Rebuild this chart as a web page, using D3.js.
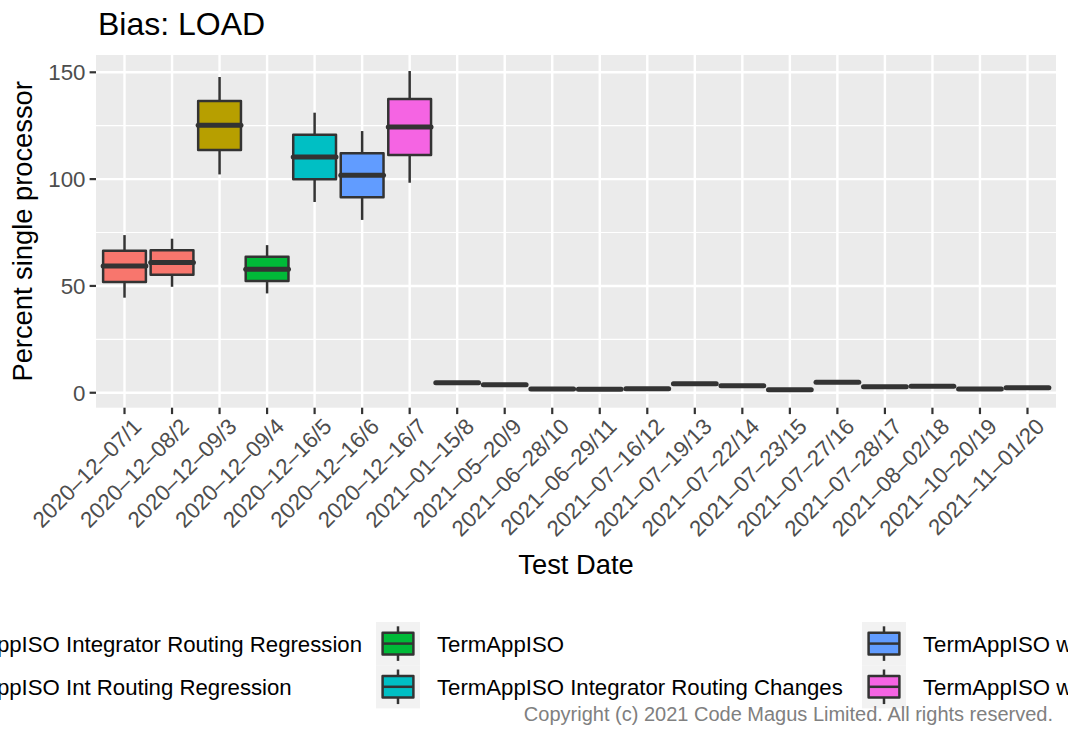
<!DOCTYPE html>
<html><head><meta charset="utf-8">
<script src="https://cdn.jsdelivr.net/npm/d3@7"></script>
<style>
html,body{margin:0;padding:0;background:#fff;}
svg{display:block;font-family:"Liberation Sans",Arial,Helvetica,sans-serif;}
</style></head>
<body><svg id="c" width="1068" height="729"></svg>
<script>
// ---- data ----
const categories = ["2020-12-07/1","2020-12-08/2","2020-12-09/3","2020-12-09/4","2020-12-16/5","2020-12-16/6","2020-12-16/7","2021-01-15/8","2021-05-20/9","2021-06-28/10","2021-06-29/11","2021-07-16/12","2021-07-19/13","2021-07-22/14","2021-07-23/15","2021-07-27/16","2021-07-28/17","2021-08-02/18","2021-10-20/19","2021-11-01/20"];
const groupOf  = [0,0,1,2,3,4,5,5,5,5,5,5,5,5,5,5,5,5,5,5];
const wMin     = [44.5,49.6,102.2,46.5,89.3,80.9,98.3,4.7,3.7,1.7,1.6,1.9,4.2,3.3,1.4,4.9,2.8,3.0,1.7,2.3];
const q1       = [51.8,55.2,113.6,52.3,99.9,91.5,111.3,4.7,3.7,1.7,1.6,1.9,4.2,3.3,1.4,4.9,2.8,3.0,1.7,2.3];
const median   = [59.3,61.0,125.2,57.8,110.3,101.8,124.4,4.7,3.7,1.7,1.6,1.9,4.2,3.3,1.4,4.9,2.8,3.0,1.7,2.3];
const q3       = [66.5,66.7,136.6,63.7,120.8,112.1,137.5,4.7,3.7,1.7,1.6,1.9,4.2,3.3,1.4,4.9,2.8,3.0,1.7,2.3];
const wMax     = [73.8,72.1,147.8,69.1,131.1,122.5,150.6,4.7,3.7,1.7,1.6,1.9,4.2,3.3,1.4,4.9,2.8,3.0,1.7,2.3];
const groupNames  = ["TermAppISO Integrator Routing Regression","TermAppISO Int Routing Regression","TermAppISO","TermAppISO Integrator Routing Changes","TermAppISO with Int Routing Changes","TermAppISO with Integrator Routing Changes"];
const groupColors = ["#F8766D","#B79F00","#00BA38","#00BFC4","#619CFF","#F564E3"];
const yTicks = [0,50,100,150];
const yMinor = [25,75,125];
const yDomain = [-7.0,158.1];

// ---- layout ----
const svg = d3.select("#c");
const P = {l:96, r:1056, t:55, b:407.7};
const FONT_TITLE = 32, FONT_AX = 27.3, FONT_TICK = 22.3, FONT_LEG = 22.2, FONT_CAP = 20;

const x = d3.scalePoint().domain(categories).range([P.l,P.r]).padding(0.6);
const y = d3.scaleLinear().domain(yDomain).range([P.b,P.t]);
const boxW = x.step()*0.9;
const xc = d => x(d);

// panel
svg.append("rect").attr("x",P.l).attr("y",P.t).attr("width",P.r-P.l).attr("height",P.b-P.t).attr("fill","#EBEBEB");
const g = svg.append("g");
g.selectAll(".minor").data(yMinor).join("line")
  .attr("x1",P.l).attr("x2",P.r).attr("y1",d=>y(d)).attr("y2",d=>y(d))
  .attr("stroke","#fff").attr("stroke-width",1.2);
g.selectAll(".majory").data(yTicks).join("line")
  .attr("x1",P.l).attr("x2",P.r).attr("y1",d=>y(d)).attr("y2",d=>y(d))
  .attr("stroke","#fff").attr("stroke-width",2.4);
g.selectAll(".majorx").data(categories).join("line")
  .attr("x1",d=>xc(d)).attr("x2",d=>xc(d)).attr("y1",P.t).attr("y2",P.b)
  .attr("stroke","#fff").attr("stroke-width",2.4);

// boxes
const boxes = svg.append("g").selectAll("g").data(categories).join("g");
boxes.append("line").attr("x1",d=>xc(d)).attr("x2",d=>xc(d))
  .attr("y1",(d,i)=>y(wMax[i])).attr("y2",(d,i)=>y(q3[i]))
  .attr("stroke","#333").attr("stroke-width",2.5);
boxes.append("line").attr("x1",d=>xc(d)).attr("x2",d=>xc(d))
  .attr("y1",(d,i)=>y(q1[i])).attr("y2",(d,i)=>y(wMin[i]))
  .attr("stroke","#333").attr("stroke-width",2.5);
boxes.append("rect").attr("x",d=>xc(d)-boxW/2).attr("width",boxW)
  .attr("y",(d,i)=>y(q3[i])).attr("height",(d,i)=>y(q1[i])-y(q3[i]))
  .attr("fill",(d,i)=>groupColors[groupOf[i]])
  .attr("stroke","#333").attr("stroke-width",2.5).attr("stroke-linejoin","round");
boxes.append("line").attr("x1",d=>xc(d)-boxW/2).attr("x2",d=>xc(d)+boxW/2)
  .attr("y1",(d,i)=>y(median[i])).attr("y2",(d,i)=>y(median[i]))
  .attr("stroke","#333").attr("stroke-width",5).attr("stroke-linecap","round");

// y axis
const ya = svg.append("g");
ya.selectAll("line").data(yTicks).join("line")
  .attr("x1",P.l-6.4).attr("x2",P.l).attr("y1",d=>y(d)).attr("y2",d=>y(d))
  .attr("stroke","#333").attr("stroke-width",2.2);
ya.selectAll("text").data(yTicks).join("text")
  .attr("x",P.l-10.5).attr("y",d=>y(d)).attr("dy","0.36em")
  .attr("text-anchor","end").attr("fill","#4D4D4D").attr("font-size",FONT_TICK)
  .text(d=>d);

// x axis
const xa = svg.append("g");
xa.selectAll("line").data(categories).join("line")
  .attr("x1",d=>xc(d)).attr("x2",d=>xc(d)).attr("y1",P.b).attr("y2",P.b+6.4)
  .attr("stroke","#333").attr("stroke-width",2.2);
xa.selectAll("text").data(categories).join("text")
  .attr("transform",d=>`translate(${xc(d)+7},${P.b+9}) rotate(-45)`)
  .attr("dy","0.72em")
  .attr("text-anchor","end").attr("fill","#4D4D4D").attr("font-size",FONT_TICK)
  .text(d=>d.replace(/-/g,"\u2013"));

// titles
svg.append("text").attr("x",98).attr("y",35).attr("font-size",FONT_TITLE).attr("fill","#000").text("Bias: LOAD");
svg.append("text").attr("x",(P.l+P.r)/2).attr("y",574).attr("text-anchor","middle")
  .attr("font-size",FONT_AX).attr("fill","#000").text("Test Date");
svg.append("text").attr("transform",`translate(32,${(P.t+P.b)/2}) rotate(-90)`)
  .attr("text-anchor","middle").attr("font-size",FONT_AX).attr("fill","#000").text("Percent single processor");

// legend
const keyW = 44, keyH = 43.2, keyTop = 622, textGap = 17;
const colKeyX = [null, 376, 862];
const leg = svg.append("g");
const tmp = leg.append("text").attr("font-size",FONT_LEG).text(groupNames[0]);
const w0 = tmp.node().getComputedTextLength(); tmp.remove();
colKeyX[0] = 362 - w0 - textGap - keyW;
groupNames.forEach((name,i)=>{
  const col = Math.floor(i/2), row = i%2;
  const kx = colKeyX[col], ky = keyTop + row*keyH;
  const k = leg.append("g");
  k.append("rect").attr("x",kx).attr("y",ky).attr("width",keyW).attr("height",keyH).attr("fill","#F2F2F2");
  k.append("line").attr("x1",kx+keyW/2).attr("x2",kx+keyW/2).attr("y1",ky+keyH*0.1).attr("y2",ky+keyH*0.9)
    .attr("stroke","#333").attr("stroke-width",2.5);
  k.append("rect").attr("x",kx+keyW*0.15).attr("y",ky+keyH*0.25).attr("width",keyW*0.7).attr("height",keyH*0.5)
    .attr("fill",groupColors[i]).attr("stroke","#333").attr("stroke-width",2.5).attr("stroke-linejoin","round");
  k.append("line").attr("x1",kx+keyW*0.15).attr("x2",kx+keyW*0.85).attr("y1",ky+keyH*0.5).attr("y2",ky+keyH*0.5)
    .attr("stroke","#333").attr("stroke-width",2.5);
  leg.append("text").attr("x",kx+keyW+textGap).attr("y",ky+keyH/2).attr("dy","0.36em")
    .attr("font-size",FONT_LEG).attr("fill","#000").text(name);
});

// caption
svg.append("text").attr("x",1053).attr("y",721).attr("text-anchor","end")
  .attr("font-size",FONT_CAP).attr("fill","#808080")
  .text("Copyright (c) 2021 Code Magus Limited. All rights reserved.");
</script>
</body></html>
